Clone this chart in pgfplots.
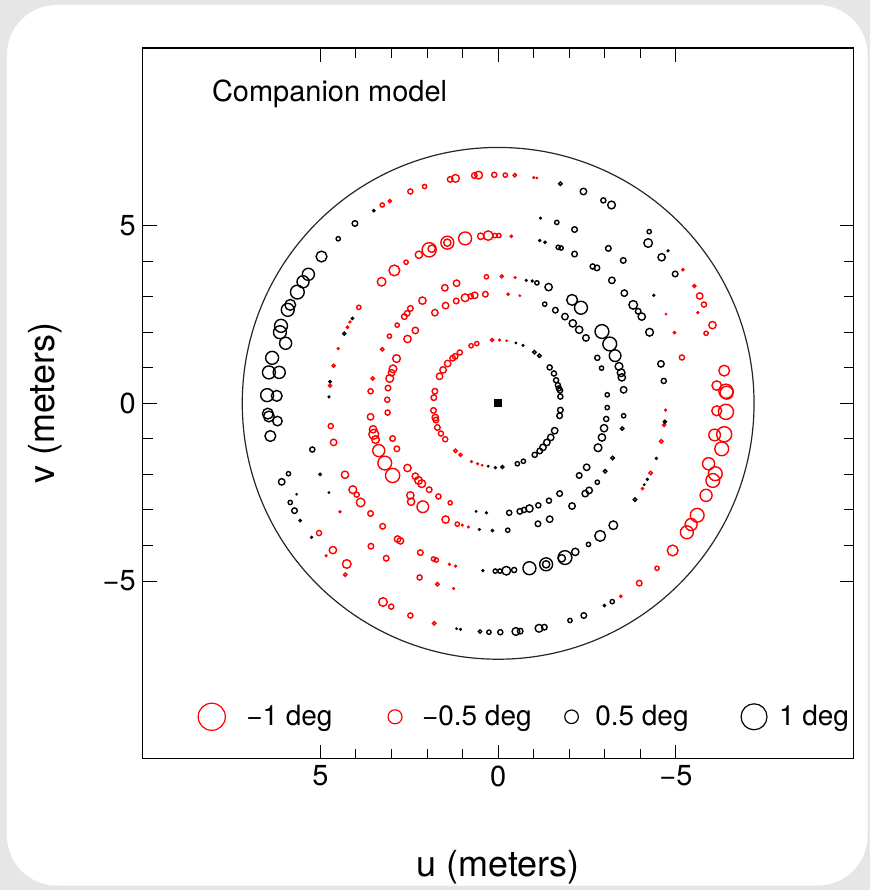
\documentclass[border=0pt]{standalone}
\usepackage{pgfplots}
\pgfplotsset{compat=1.18}
\usepackage{pgfplotstable}
\usepackage{fontspec}
\setmainfont{TeX Gyre Heros}
\usetikzlibrary{backgrounds}
\definecolor{bggray}{HTML}{E6E6E6}
\pgfplotstableread{
u v s
2.47 5.96 1.2
3.26 5.58 1.0
3.05 5.69 0.75
2.59 3.97 1.0
2.92 3.74 2.5
3.28 3.42 2.0
3.92 2.70 1.0
2.47 2.67 1.3
2.56 2.53 1.3
2.64 2.44 1.3
2.07 6.10 1.0
1.35 6.30 1.3
1.20 6.33 1.8
0.67 6.41 1.3
0.55 6.42 1.8
0.11 6.43 1.2
-0.20 6.42 1.0
-0.47 6.42 0.8
-1.00 6.35 0.35
-1.09 6.34 0.25
2.23 4.18 1.7
1.94 4.32 3.3
1.87 4.35 1.7
1.43 4.52 3.0
1.43 4.52 1.7
0.93 4.64 3.0
0.49 4.70 1.5
0.28 4.72 2.2
0.09 4.72 1.0
-0.02 4.72 1.0
-0.37 4.70 0.5
0.33 3.56 1.0
-0.10 3.57 0.7
-0.48 3.54 0.35
1.17 3.38 1.5
1.50 3.25 1.5
2.13 2.89 1.7
1.78 2.55 1.5
1.48 2.75 1.5
1.18 2.88 1.3
0.93 2.97 1.8
0.77 3.01 1.2
0.66 3.04 1.5
0.36 3.07 1.3
-0.28 3.07 0.5
-0.61 3.03 0.25
-5.20 3.76 0.5
-5.52 3.30 0.7
-5.67 3.02 1.5
-5.79 2.78 1.2
-4.72 2.51 0.25
-5.62 2.55 0.4
4.17 2.29 0.4
4.24 2.14 0.5
4.50 1.54 0.4
4.63 1.06 0.7
4.73 0.50 0.7
4.71 -0.64 1.2
4.63 -1.10 1.5
4.31 -2.01 1.7
4.09 -2.43 1.8
3.98 -2.57 1.2
2.84 2.20 1.0
3.06 1.89 1.0
2.55 1.81 1.7
3.26 1.52 0.8
2.86 1.26 1.8
2.96 0.97 1.8
3.00 0.86 1.5
3.05 0.70 1.8
3.53 0.70 0.8
3.59 0.34 1.2
3.10 0.43 1.3
3.12 0.10 1.2
3.11 -0.26 1.2
3.59 -0.38 1.5
3.52 -0.73 1.7
3.50 -0.87 2.3
3.45 -1.02 1.8
2.97 -0.99 1.3
3.36 -1.33 2.8
2.85 -1.28 1.3
3.19 -1.68 3.2
2.97 -2.03 3.3
2.55 -1.82 1.7
2.47 -2.59 1.7
2.33 2.05 1.5
0.76 1.62 1.0
0.60 1.68 1.0
0.17 1.78 0.7
-0.04 1.78 0.4
-0.24 1.76 0.25
1.08 1.43 1.2
1.21 1.32 1.3
1.28 1.27 1.3
1.42 1.12 1.5
1.55 0.94 1.5
1.65 0.76 1.5
1.78 0.34 1.3
1.81 0.16 1.3
1.82 -0.20 1.3
1.77 -0.40 1.5
1.75 -0.47 1.3
1.71 -0.68 1.3
1.61 -0.85 1.2
1.49 -1.01 1.2
1.20 -1.34 0.8
1.06 -1.45 0.7
0.75 -1.64 0.4
0.58 -1.70 0.35
0.45 -1.74 0.25
2.33 -2.05 1.5
2.24 -2.17 1.8
2.15 -2.26 1.8
1.94 -2.43 1.3
1.68 -2.62 1.2
-4.96 1.99 0.5
-5.85 1.97 1.0
-6.03 2.20 1.7
-5.17 1.29 1.2
-6.36 0.92 2.5
-6.15 0.50 2.2
-6.41 0.34 3.3
-6.43 0.30 3.0
-6.15 -0.21 2.3
-6.41 -0.24 3.5
-4.71 -0.19 0.4
-4.67 -0.61 0.7
-4.59 -1.07 0.8
-6.09 -0.89 2.7
-6.36 -0.87 3.5
-6.29 -1.28 3.2
-5.92 -1.70 2.8
-6.11 -1.98 3.2
-6.04 -2.17 3.2
-5.85 -2.59 2.8
-4.29 -1.96 0.8
-4.06 -2.40 0.5
4.45 -3.05 0.4
3.87 -2.79 2.0
3.59 -3.10 1.3
3.25 -3.46 1.3
2.83 -3.82 1.5
2.75 -3.87 1.5
3.58 -4.02 1.3
3.15 -4.36 1.3
5.04 -3.65 1.2
4.65 -4.13 1.7
4.84 -4.29 0.35
4.26 -4.52 2.0
4.30 -4.82 0.8
3.24 -5.59 2.0
3.01 -5.72 1.2
2.47 -5.97 1.2
2.45 -2.77 1.7
2.12 -2.91 2.7
1.35 -2.80 1.0
1.48 -3.27 1.7
1.15 -3.40 1.0
1.01 -3.43 0.35
0.84 -3.48 0.35
2.19 -4.20 1.3
1.82 -4.38 1.0
1.74 -4.41 1.0
1.37 -4.53 0.4
1.20 -4.58 0.4
2.21 -4.90 1.2
1.71 -5.09 0.8
1.25 -5.21 0.35
1.80 -6.19 0.8
-5.60 -3.15 3.2
-5.43 -3.41 2.8
-5.31 -3.63 3.0
-4.91 -4.14 2.5
-4.47 -4.64 1.0
-3.97 -5.06 1.3
-3.45 -5.43 0.5
}\reddata
\pgfplotstableread{
u v s
3.50 5.42 0.5
4.03 5.06 1.3
4.50 4.63 1.0
4.97 4.13 2.5
5.34 3.63 2.8
5.49 3.42 2.8
5.65 3.13 3.2
5.85 2.77 2.5
5.92 2.63 3.0
4.10 2.39 0.5
-1.17 4.58 0.4
-1.32 4.53 0.5
-1.69 4.39 1.0
-1.77 4.37 1.0
-2.15 4.20 1.3
-2.66 3.85 1.2
-1.19 5.21 0.35
-1.65 5.09 1.0
-2.15 4.89 1.3
-1.75 6.18 0.8
-2.40 5.96 1.5
-0.79 3.46 0.35
-0.96 3.44 0.4
-1.09 3.39 1.0
-1.42 3.27 1.7
-1.31 2.79 1.0
-1.61 2.62 1.3
-2.08 2.91 2.5
-2.33 2.69 3.0
-1.88 2.44 1.5
-2.96 5.71 1.2
-3.19 5.58 1.8
-4.25 4.83 1.0
-4.22 4.51 2.0
-4.78 4.29 0.4
-4.60 4.11 1.7
-4.98 3.64 1.3
-3.10 4.36 1.3
-3.52 4.02 1.3
-2.78 3.81 1.3
-3.20 3.46 1.5
-3.55 3.10 1.5
-4.38 3.04 0.4
-3.80 2.77 2.0
-3.94 2.59 1.3
-4.04 2.44 1.7
6.11 2.18 3.0
6.14 2.00 3.0
5.98 1.69 2.8
6.36 1.28 3.0
6.45 0.87 3.0
6.16 0.87 2.8
6.50 0.23 3.0
6.23 0.21 2.5
6.48 -0.29 2.5
6.45 -0.37 2.5
6.21 -0.50 2.2
6.41 -0.92 2.5
4.33 1.96 0.7
4.73 0.61 0.5
4.76 0.18 0.35
5.23 -1.30 1.2
5.90 -1.98 1.0
6.09 -2.21 1.5
5.01 -2.00 0.5
5.67 -2.56 0.25
4.76 -2.51 0.25
-0.50 1.70 0.25
-0.70 1.63 0.35
-1.02 1.44 0.8
-1.16 1.34 0.8
-1.45 1.01 1.2
-1.57 0.84 1.2
-1.63 0.65 1.2
-1.68 0.51 1.2
-1.71 0.42 1.2
-1.74 0.36 1.2
-1.75 0.19 1.2
-1.75 -0.19 1.3
-1.73 -0.35 1.3
-1.59 -0.77 1.5
-1.48 -0.96 1.5
-1.37 -1.10 1.5
-1.26 -1.24 1.5
-1.17 -1.34 1.3
-1.03 -1.45 1.2
-0.71 -1.63 1.0
-0.54 -1.70 1.0
-0.12 -1.79 0.7
0.08 -1.81 0.4
0.28 -1.77 0.25
-2.10 2.25 1.7
-2.28 2.07 1.7
-2.47 1.84 1.5
-2.49 -1.80 1.5
-2.28 -2.03 1.3
-1.73 -2.54 1.3
-2.45 -2.54 1.5
-2.56 -2.45 1.5
-2.92 2.02 3.2
-3.14 1.67 3.2
-3.29 1.34 2.7
-3.40 1.04 1.8
-3.46 0.86 1.8
-3.48 0.73 1.7
-3.53 0.38 1.5
-2.79 1.28 1.2
-2.91 0.99 1.0
-3.07 0.24 1.0
-3.07 -0.12 1.0
-3.04 -0.44 1.2
-2.98 -0.70 1.7
-2.92 -0.96 1.7
-2.81 -1.25 1.8
-3.53 -0.35 1.0
-3.49 -0.71 0.8
-3.22 -1.54 0.8
-3.01 -1.91 0.8
-2.79 -2.22 1.0
-4.26 2.00 1.8
-4.58 1.11 1.5
-4.66 0.63 1.2
-4.69 -0.52 0.7
-4.45 -1.55 0.4
-4.20 -2.14 0.4
-4.11 -2.29 0.25
-3.85 -2.71 0.8
5.85 -2.79 1.0
5.73 -3.02 1.3
5.57 -3.30 0.5
5.25 -3.77 0.4
0.62 -3.04 0.25
0.33 -3.08 0.4
0.53 -3.55 0.35
0.16 -3.58 0.5
-0.27 -3.57 1.0
-0.31 -3.08 1.2
-0.61 -3.04 1.3
-0.73 -3.00 1.2
-0.88 -2.96 1.7
-1.13 -2.87 1.2
-1.43 -2.74 1.2
-2.08 -2.89 1.5
-1.12 -3.39 1.3
-1.45 -3.26 1.5
-2.54 -3.97 1.0
-2.17 -4.18 1.7
-1.88 -4.34 3.2
-1.79 -4.36 1.7
-1.35 -4.53 3.0
-1.35 -4.53 1.7
-0.88 -4.64 3.0
-0.45 -4.69 1.2
-0.23 -4.71 2.0
-0.05 -4.72 1.0
0.08 -4.72 1.0
0.43 -4.71 0.4
1.17 -6.34 0.25
1.06 -6.36 0.35
0.51 -6.42 0.8
0.26 -6.44 1.0
-0.06 -6.44 1.2
-0.50 -6.42 1.8
-0.62 -6.41 1.3
-1.15 -6.33 1.8
-1.30 -6.30 1.3
-2.02 -6.11 1.0
-2.41 -5.97 1.3
-3.24 -3.43 2.0
-2.87 -3.73 2.5
-3.21 -5.58 1.0
-2.99 -5.69 0.5
}\blackdata
\begin{document}
\begin{tikzpicture}
\begin{axis}[
  scale only axis, width=356pt, height=356pt,
  xmin=-10, xmax=10, ymin=-10, ymax=10, x dir=reverse,
  xtick={-5,0,5}, xticklabels={−5,0,5},
  ytick={-5,0,5}, yticklabels={−5,0,5},
  minor tick num=4,
  tick align=inside,
  major tick length=7pt, minor tick length=5pt,
  every tick/.style={black, line width=0.5pt},
  axis line style={line width=0.7pt},
  tick label style={font=\fontsize{14.5}{17}\selectfont},
  xlabel={u (meters)}, ylabel={v (meters)},
  label style={font=\fontsize{18}{21}\selectfont},
  xlabel style={at={(axis description cs:0.5,-0.166)}, anchor=base},
  ylabel style={at={(axis description cs:-0.124,0.5)}, anchor=base},
  legend columns=4,
  legend style={at={(axis description cs:0.069,0.059)}, anchor=west,
    draw=none, fill=none, /tikz/column sep=0pt,
    font=\fontsize{14}{17}\selectfont},
  legend cell align=left,
]
\draw[line width=0.6pt, black!85] (axis cs:0,0) circle[radius=7.2];
\addplot[forget plot, scatter, only marks, mark=o, red,
  point meta=explicit,
  visualization depends on={1.08*\thisrow{s} \as \msz},
  scatter/@pre marker code/.code={\scope[mark size=\msz pt, draw=red, line width=0.7pt]},
  scatter/@post marker code/.code={\endscope}]
  table[x=u, y=v, meta=s] {\reddata};
\addplot[forget plot, scatter, only marks, mark=o, black,
  point meta=explicit,
  visualization depends on={1.08*\thisrow{s} \as \msz},
  scatter/@pre marker code/.code={\scope[mark size=\msz pt, draw=black, line width=0.7pt]},
  scatter/@post marker code/.code={\endscope}]
  table[x=u, y=v, meta=s] {\blackdata};
\addplot[forget plot, only marks, mark=square*, mark size=1.75pt, black] coordinates {(0,0)};
\node[anchor=base west, font=\fontsize{14.5}{17}\selectfont] at (axis cs:8.25,8.5) {Companion model};
\addlegendimage{only marks, mark=o, red, mark size=6.8pt, mark options={line width=0.6pt}}
\addlegendentry{\makebox[77.5pt][l]{\hspace{8.5pt}−1 deg}}
\addlegendimage{only marks, mark=o, red, mark size=3.5pt, mark options={line width=0.6pt}}
\addlegendentry{\makebox[77.5pt][l]{\hspace{8pt}−0.5 deg}}
\addlegendimage{only marks, mark=o, black, mark size=3.4pt, mark options={line width=0.6pt}}
\addlegendentry{\makebox[77.5pt][l]{\hspace{6.5pt}0.5 deg}}
\addlegendimage{only marks, mark=o, black, mark size=6.5pt, mark options={line width=0.6pt}}
\addlegendentry{\hspace{4pt}1 deg}
\end{axis}
\begin{scope}[on background layer]
\fill[bggray] ([shift={(-71.5pt,-65.5pt)}]current axis.south west) rectangle ([shift={(8pt,24pt)}]current axis.north east);
\fill[white, rounded corners=25pt] ([shift={(-68pt,-63.5pt)}]current axis.south west) rectangle ([shift={(7pt,21.5pt)}]current axis.north east);
\end{scope}
\end{tikzpicture}
\end{document}
